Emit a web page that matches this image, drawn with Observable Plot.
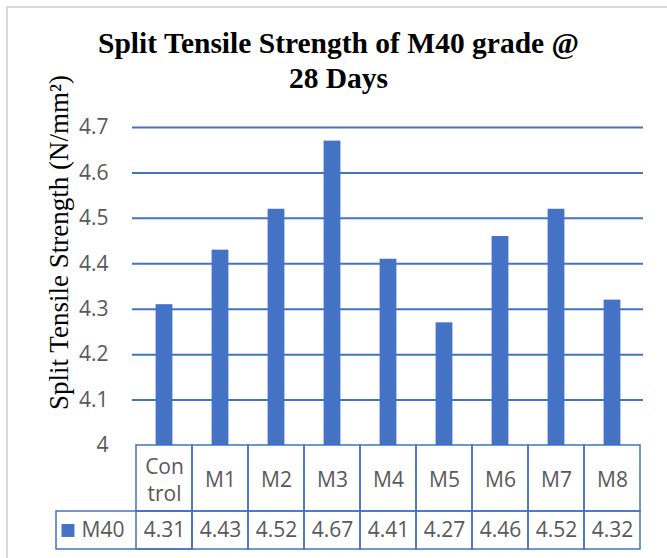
<!DOCTYPE html>
<html><head><meta charset="utf-8">
<script src="https://cdn.jsdelivr.net/npm/d3@7"></script>
<script src="https://cdn.jsdelivr.net/npm/@observablehq/plot@0.6"></script>
<style>
html,body{margin:0;padding:0;background:#fff;}
#wrap{position:relative;width:667px;height:558px;overflow:hidden;background:#fff;}
#border{position:absolute;left:6px;top:6px;width:700px;height:600px;border:2px solid #d9d9d9;box-sizing:border-box;}
#chart{position:absolute;left:0;top:0;}
</style></head><body>
<div id="wrap"><div id="border"></div><div id="chart"></div></div>
<script>
const categories = ["Control","M1","M2","M3","M4","M5","M6","M7","M8"];
const categoryLabels = ["Con\ntrol","M1","M2","M3","M4","M5","M6","M7","M8"];
const values = [4.31,4.43,4.52,4.67,4.41,4.27,4.46,4.52,4.32];
const seriesName = "M40";
const yTicks = [4,4.1,4.2,4.3,4.4,4.5,4.6,4.7];
const yTickLabels = ["4","4.1","4.2","4.3","4.4","4.5","4.6","4.7"];
const titleText = "Split Tensile Strength of M40 grade @\n28 Days";
const yTitle = "Split Tensile Strength (N/mm²)";

const blue = "#4472C4";
const data = categories.map((c, i) => ({cat: c, label: categoryLabels[i], value: values[i]}));
const yMin = yTicks[0];
const serif = "'Liberation Serif', 'Times New Roman', serif";

const chart = Plot.plot({
  width: 667,
  height: 558,
  marginTop: 127,
  marginBottom: 113,
  marginLeft: 132,
  marginRight: 24,
  style: {fontFamily: "'Open Sans', sans-serif", fontSize: "21px", color: "#595959", background: "transparent", overflow: "visible"},
  x: {domain: categories, padding: 0, axis: null},
  y: {domain: [yTicks[0], yTicks[yTicks.length - 1]], ticks: yTicks, tickFormat: (d) => yTickLabels[yTicks.indexOf(d)] ?? String(d), tickSize: 0, tickPadding: 24, label: null},
  marks: [
    Plot.ruleY(yTicks.slice(1), {stroke: blue, strokeWidth: 2}),
    Plot.barY(data, {x: "cat", y1: yMin, y2: "value", fill: blue, insetLeft: 19.6, insetRight: 19.6}),
    // data table: header row cells
    Plot.barY(categories, {x: (d) => d, y1: yMin, y2: yMin, insetBottom: -66, fill: "none", stroke: blue, strokeWidth: 1.5}),
    // data table: value row cells
    Plot.barY(categories, {x: (d) => d, y1: yMin, y2: yMin, insetTop: 66, insetBottom: -104, fill: "none", stroke: blue, strokeWidth: 1.5}),
    // legend cell
    Plot.barY([categories[0]], {x: (d) => d, y1: yMin, y2: yMin, insetTop: 66, insetBottom: -104, insetLeft: -80, fill: "none", stroke: blue, strokeWidth: 1.5}),
    Plot.text(data, {x: "cat", text: "label", frameAnchor: "bottom", lineAnchor: "middle", dy: 33, lineHeight: 1.29, fill: "#595959"}),
    Plot.text(data, {x: "cat", text: (d) => d.value.toFixed(2), frameAnchor: "bottom", lineAnchor: "middle", dy: 85, fill: "#595959"}),
    Plot.dot([seriesName], {frameAnchor: "bottom-left", dx: -64.5, dy: 85, symbol: "square", r: 7.3, fill: blue, stroke: "none"}),
    Plot.text([seriesName], {frameAnchor: "bottom-left", text: (d) => d, dx: -51, dy: 85, textAnchor: "start", lineAnchor: "middle", fill: "#595959"}),
    Plot.text([titleText], {frameAnchor: "top", text: (d) => d, dx: -49.5, dy: -40, textAnchor: "middle", lineAnchor: "bottom", lineHeight: 1.16, fontFamily: serif, fontWeight: "bold", fontSize: 29.5, fill: "#000"}),
    Plot.text([yTitle], {frameAnchor: "left", text: (d) => d, rotate: -90, dx: -65, dy: -44, textAnchor: "middle", lineAnchor: "bottom", fontFamily: serif, fontSize: 27, fill: "#000"})
  ]
});
document.getElementById("chart").appendChild(chart);
</script>
</body></html>
